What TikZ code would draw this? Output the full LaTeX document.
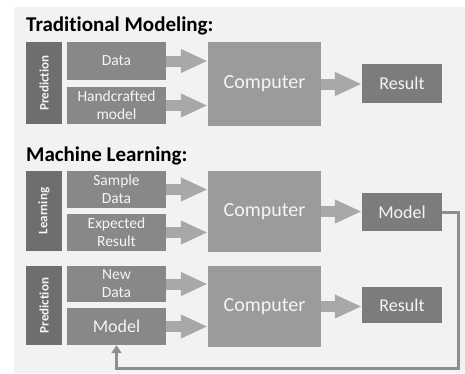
\documentclass[tikz,border=0pt]{standalone}
\usepackage{fontspec}
\setmainfont{Carlito}[Ligatures=NoCommon]
\usetikzlibrary{arrows.meta}

\definecolor{panel}{HTML}{F2F2F2}
\definecolor{bardark}{HTML}{6E6E6E}
\definecolor{inbox}{HTML}{888888}
\definecolor{compbox}{HTML}{9B9B9B}
\definecolor{outbox}{HTML}{7C7C7C}
\definecolor{flow}{HTML}{A8A8A8}
\definecolor{loopgray}{HTML}{8E8E8E}
\definecolor{boxtext}{HTML}{F5F5F5}

\tikzset{
  box/.style={fill=#1, text=boxtext, align=center, inner sep=0pt},
  sidebar/.style={box=bardark, rotate=90, minimum height=36bp,
    font=\fontsize{13bp}{15bp}\selectfont\bfseries},
  inputbox/.style={box=inbox, minimum width=99bp,
    font=\fontsize{15.5bp}{18bp}\selectfont},
  compbox/.style={box=compbox, minimum width=113bp,
    font=\fontsize{20bp}{24bp}\selectfont},
  outbox/.style={box=outbox, minimum width=80bp,
    font=\fontsize{18bp}{22bp}\selectfont},
  flowarrow/.style={draw=flow, line width=11bp,
    -{Triangle[length=27bp, width=22bp]}},
  feedback/.style={draw=loopgray, line width=3bp,
    -{Triangle[length=8bp, width=10bp]}},
  heading/.style={anchor=base west, inner sep=0pt,
    font=\fontsize{21bp}{25bp}\selectfont\bfseries}
}

\begin{document}
\begin{tikzpicture}[x=1bp, y=-1bp]
    \useasboundingbox [fill=white] (0, 0) rectangle (465, 373);
    \fill [panel] (14, 7) rectangle (465, 373);

    % traditional modeling
    \node [heading] (tradtitle) at (26, 31) {Traditional Modeling:};
    \node [sidebar, minimum width=82bp] (pred1) at (44, 83) {Prediction};
    \node [inputbox, minimum height=38bp] (data) at (116.5, 61) {Data};
    \node [inputbox, minimum height=37bp] (hand) at (116.5, 105.5) {Handcrafted\\model};
    \node [compbox, minimum height=84bp] (comp1) at (264.5, 84) {Computer};
    \node [outbox, minimum height=39bp] (res1) at (402, 83.5) {Result};
    \draw [flowarrow] (data) -- (data -| comp1.west);
    \draw [flowarrow] (hand) -- (hand -| comp1.west);
    \draw [flowarrow] (comp1) -- (comp1 -| res1.west);

    % machine learning
    \node [heading] (mltitle) at (26, 161) {Machine Learning:};
    \node [sidebar, minimum width=80bp] (learn) at (44, 211) {Learning};
    \node [inputbox, minimum height=37bp] (sample) at (116.5, 189.5) {Sample\\Data};
    \node [inputbox, minimum height=37bp] (expected) at (116.5, 232.5) {Expected\\Result};
    \node [compbox, minimum height=81bp] (comp2) at (264.5, 211.5) {Computer};
    \node [outbox, minimum height=38bp] (mlmodel) at (402, 212) {Model};
    \draw [flowarrow] (sample) -- (sample -| comp2.west);
    \draw [flowarrow] (expected) -- (expected -| comp2.west);
    \draw [flowarrow] (comp2) -- (comp2 -| mlmodel.west);

    \node [sidebar, minimum width=79bp] (pred2) at (44, 305.5) {Prediction};
    \node [inputbox, minimum height=36bp] (newdata) at (116.5, 284) {New\\Data};
    \node [inputbox, minimum height=37bp, font=\fontsize{18bp}{22bp}\selectfont] (pmodel) at (116.5, 326.5) {Model};
    \node [compbox, minimum height=81bp] (comp3) at (264.5, 306.5) {Computer};
    \node [outbox, minimum height=36bp] (res2) at (402, 305) {Result};
    \draw [flowarrow] (newdata) -- (newdata -| comp3.west);
    \draw [flowarrow] (pmodel) -- (pmodel -| comp3.west);
    \draw [flowarrow] (comp3) -- (comp3 -| res2.west);

    % model goes back into prediction
    \coordinate (turn) at (458, 368);
    \draw [feedback] (mlmodel) -| (turn) -| (pmodel);
\end{tikzpicture}
\end{document}
